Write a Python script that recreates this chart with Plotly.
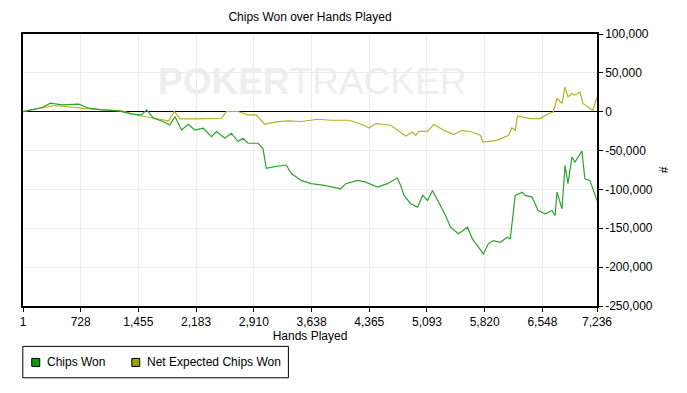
import plotly.graph_objects as go

# ---- data ----
won_hands = [1, 118, 243, 347, 494, 704, 829, 996, 1206, 1373, 1496, 1559, 1645, 1749, 1853,
             1916, 2000, 2084, 2167, 2273, 2377, 2440, 2544, 2628, 2712, 2775, 2837, 2963, 3026,
             3067, 3171, 3318, 3381, 3506, 3632, 3799, 4007, 4070, 4217, 4321, 4406, 4469, 4594,
             4720, 4761, 4804, 4887, 4975, 5038, 5101, 5163, 5226, 5327, 5389, 5490, 5603, 5666,
             5728, 5804, 5867, 5929, 6017, 6105, 6143, 6168, 6205, 6293, 6331, 6418, 6494, 6582,
             6669, 6707, 6732, 6795, 6833, 6870, 6920, 6958, 7046, 7083, 7146, 7184, 7236]
won_values = [0, 2300, 5400, 11000, 8800, 9700, 4500, 2300, 1000, -3200, -4100, 2300, -8400,
              -11900, -17000, -6200, -23500, -16100, -23500, -21300, -32000, -25500, -34200,
              -27700, -38400, -34200, -40600, -40600, -47100, -72900, -70700, -68600, -79300,
              -88400, -92600, -94800, -99100, -92600, -88400, -90600, -94800, -97000, -92600,
              -85400, -94800, -107700, -118400, -122800, -107700, -114200, -101300, -114200,
              -133500, -148600, -157100, -148600, -163600, -172200, -182900, -170000, -165800,
              -168000, -161500, -163600, -142200, -107700, -103500, -107700, -109900, -127100,
              -131300, -127100, -133500, -103500, -124900, -69000, -92600, -58300, -64800,
              -50600, -86200, -88400, -99100, -114200]

ev_hands = [1, 118, 406, 829, 1247, 1457, 1661, 1833, 1909, 1979, 2167, 2335, 2502, 2565, 2712,
            2837, 2941, 3046, 3171, 3339, 3506, 3716, 3883, 4113, 4301, 4364, 4448, 4636, 4783,
            4824, 4908, 4950, 4991, 5097, 5180, 5305, 5431, 5536, 5661, 5765, 5799, 5975, 6120,
            6163, 6205, 6234, 6393, 6519, 6602, 6685, 6732, 6795, 6833, 6870, 6920, 6958, 7021,
            7059, 7146, 7184, 7236]
ev_values = [0, 2600, 8000, 3600, 1000, -4900, -8400, -11900, 300, -9300, -9300, -8400, -8400,
             300, 300, -4100, -4100, -16100, -13500, -11900, -12600, -9700, -11000, -11000,
             -17400, -20900, -15200, -17400, -28100, -31200, -26100, -30300, -25200, -25200,
             -16500, -23900, -29400, -23900, -26100, -30300, -39000, -36800, -30300, -20900,
             -23900, -5400, -8800, -8800, -3600, -300, 17000, 10600, 32000, 19100, 23500, 21300,
             25500, 10600, 4100, 1900, 19100]

x_tick_vals = [1, 728, 1455, 2183, 2910, 3638, 4365, 5093, 5820, 6548, 7236]
x_tick_text = ["1", "728", "1,455", "2,183", "2,910", "3,638", "4,365", "5,093", "5,820",
               "6,548", "7,236"]
y_tick_vals = [100000, 50000, 0, -50000, -100000, -150000, -200000, -250000]
y_tick_text = ["100,000", "50,000", "0", "-50,000", "-100,000", "-150,000", "-200,000",
               "-250,000"]

series_names = ["Chips Won", "Net Expected Chips Won"]
line_colors = ["#2aa52a", "#b4b428"]
legend_colors = ["#0a9c0a", "#9c9c0c"]

FONT = "Liberation Sans, Arial, sans-serif"

# ---- geometry (page pixels of the reference); browser body adds an 8px margin ----
OFF = 8
PL, PR, PT, PB = 20.7, 597.3, 34.3, 305.7


def fx(p):
    return (p - PL) / (PR - PL)


def fy(p):
    return (PB - p) / (PB - PT)


fig = go.Figure()
fig.add_trace(go.Scatter(x=ev_hands, y=ev_values, mode="lines", name=series_names[1],
                         line=dict(color=line_colors[1], width=1.2), showlegend=False))
fig.add_trace(go.Scatter(x=won_hands, y=won_values, mode="lines", name=series_names[0],
                         line=dict(color=line_colors[0], width=1.2), showlegend=False))

# watermark
fig.add_annotation(text="<b>POKER</b>TRACKER", xref="paper", yref="paper",
                   x=fx(311), y=fy(82), xanchor="center", yanchor="middle", showarrow=False,
                   font=dict(family=FONT, size=37, color="#eeeeee"))

# legend box drawn below the plot
shapes = [dict(type="rect", xref="paper", yref="paper", x0=fx(20.5), x1=fx(287.3),
               y0=fy(346), y1=fy(377.3), line=dict(color="#000000", width=1),
               fillcolor="white", layer="above")]
swatch_x = [29.5, 130]
text_x = [42.7, 143.3]
for sx, tx, nm, col in zip(swatch_x, text_x, series_names, legend_colors):
    shapes.append(dict(type="rect", xref="paper", yref="paper", x0=fx(sx), x1=fx(sx + 8),
                       y0=fy(358), y1=fy(366), line=dict(color="#000000", width=1),
                       fillcolor=col, layer="above"))
    fig.add_annotation(text=nm, xref="paper", yref="paper", x=fx(tx), y=fy(362),
                       xanchor="left", yanchor="middle", showarrow=False,
                       font=dict(family=FONT, size=12, color="#000000"))

fig.update_layout(
    width=687 - OFF, height=393 - OFF,
    margin=dict(l=PL - OFF, r=687 - PR, t=PT - OFF, b=393 - PB, pad=0),
    paper_bgcolor="white", plot_bgcolor="white",
    font=dict(family=FONT, size=12, color="#000000"),
    showlegend=False,
    shapes=shapes,
    title=dict(text="Chips Won over Hands Played", x=fx(309), xref="paper", xanchor="center",
               y=1 - (17 - OFF) / (393 - OFF), yanchor="middle", yref="container",
               font=dict(family=FONT, size=12, color="#000000")),
    xaxis=dict(range=[1, 7236], tickvals=x_tick_vals, ticktext=x_tick_text,
               showgrid=True, gridcolor="#ebebeb", gridwidth=1,
               showline=True, linecolor="#000000", linewidth=1.5, mirror=True,
               ticks="outside", ticklen=4, tickcolor="#000000", zeroline=False,
               title=dict(text="Hands Played", standoff=2,
                          font=dict(family=FONT, size=12, color="#000000")),
               tickfont=dict(family=FONT, size=12, color="#000000")),
    yaxis=dict(range=[-250000, 100000], tickvals=y_tick_vals, ticktext=y_tick_text,
               side="right", showgrid=True, gridcolor="#ebebeb", gridwidth=1,
               showline=True, linecolor="#000000", linewidth=1.5, mirror=True,
               ticks="outside", ticklen=4, tickcolor="#000000",
               zeroline=True, zerolinecolor="#000000", zerolinewidth=1.2,
               title=dict(text="#", standoff=8,
                          font=dict(family=FONT, size=12, color="#000000")),
               tickfont=dict(family=FONT, size=12, color="#000000")),
    hovermode="closest",
)

fig.write_html("out.html")
